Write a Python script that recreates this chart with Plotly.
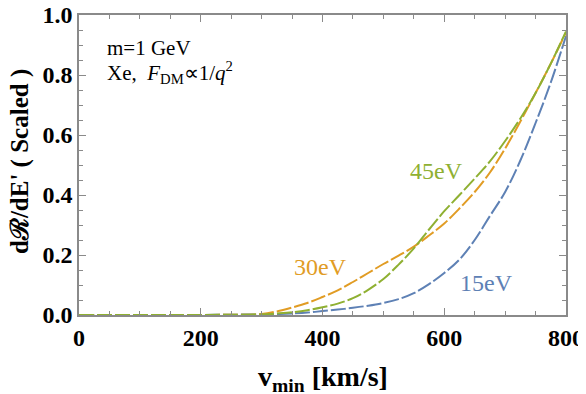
import plotly.graph_objects as go

# v_min grid [km/s]
v_min = [0, 50, 100, 150, 200, 250, 300, 325, 350, 375, 400, 425, 450, 475, 500,
         525, 550, 575, 600, 625, 650, 675, 700, 725, 750, 775, 800]

# scaled rates
rate_15eV = [0, 0, 0, 0, 0, 0.001, 0.002, 0.003, 0.005, 0.008, 0.013, 0.018, 0.024, 0.031, 0.040,
             0.053, 0.073, 0.103, 0.140, 0.185, 0.250, 0.330, 0.410, 0.515, 0.640, 0.775, 0.930]
rate_30eV = [0, 0, 0, 0, 0, 0.001, 0.003, 0.012, 0.025, 0.040, 0.060, 0.082, 0.110, 0.140, 0.170,
             0.198, 0.228, 0.265, 0.305, 0.355, 0.410, 0.475, 0.555, 0.645, 0.740, 0.838, 0.942]
rate_45eV = [0, 0, 0, 0, 0, 0.001, 0.002, 0.005, 0.009, 0.016, 0.026, 0.038, 0.056, 0.084, 0.120,
             0.168, 0.222, 0.285, 0.346, 0.400, 0.455, 0.512, 0.580, 0.655, 0.740, 0.838, 0.945]

series = [("15eV", rate_15eV, "#5E81B5"),
          ("30eV", rate_30eV, "#E19C24"),
          ("45eV", rate_45eV, "#8FB032")]

serif = "Liberation Serif"
frame = "#8a8a8a"

fig = go.Figure()
for name, ys, col in series:
    fig.add_trace(go.Scatter(x=v_min, y=ys, mode="lines", name=name,
                             line=dict(color=col, width=2, dash="15px,3px", shape="spline")))

# curve labels
fig.add_annotation(x=396, y=0.16, text="30eV", showarrow=False,
                   font=dict(family=serif, size=24, color="#E19C24"))
fig.add_annotation(x=588, y=0.48, text="45eV", showarrow=False,
                   font=dict(family=serif, size=24, color="#8FB032"))
fig.add_annotation(x=670, y=0.107, text="15eV", showarrow=False,
                   font=dict(family=serif, size=24, color="#5E81B5"))

# header text
fig.add_annotation(x=42, y=0.89, xanchor="left", text="m=1 GeV", showarrow=False,
                   font=dict(family=serif, size=21, color="black"))
fig.add_annotation(x=42, y=0.81, xanchor="left",
                   text="Xe,  <i>F</i><sub>DM</sub>∝1/<i>q</i><sup>2</sup>", showarrow=False,
                   font=dict(family=serif, size=21, color="black"))

# axis titles placed by hand
fig.add_annotation(xref="paper", yref="paper", x=0.5, y=0, yanchor="middle", yshift=-63,
                   text="<b>v<sub>min</sub> [km/s]</b>", showarrow=False,
                   font=dict(family=serif, size=28, color="black"))
fig.add_annotation(xref="paper", yref="paper", x=0, y=0.5, xanchor="center", xshift=-59,
                   yshift=3, textangle=-90, text="<b>dℛ/dE' ( Scaled )</b>", showarrow=False,
                   font=dict(family=serif, size=25, color="black"))

axis_common = dict(showgrid=False, zeroline=False, showline=True, linecolor=frame, linewidth=1.5,
                   mirror="allticks", ticks="inside", ticklen=7, tickcolor=frame, tickwidth=1,
                   automargin=False, ticklabeloverflow="allow",
                   tickfont=dict(family=serif, size=24, color="black", weight="bold"))

fig.update_xaxes(range=[0, 800], dtick=200, tick0=0,
                 minor=dict(dtick=50, ticks="inside", ticklen=4, tickcolor=frame),
                 **axis_common)
fig.update_yaxes(range=[0, 1], dtick=0.2, tick0=0, tickformat=".1f",
                 minor=dict(dtick=0.05, ticks="inside", ticklen=4, tickcolor=frame),
                 **axis_common)

# page body adds 8px offset, so the figure is a bit smaller than the window
fig.update_layout(width=578, height=386, showlegend=False,
                  plot_bgcolor="white", paper_bgcolor="white",
                  margin=dict(l=71, r=20, t=7, b=79))

fig.write_html("out.html")
